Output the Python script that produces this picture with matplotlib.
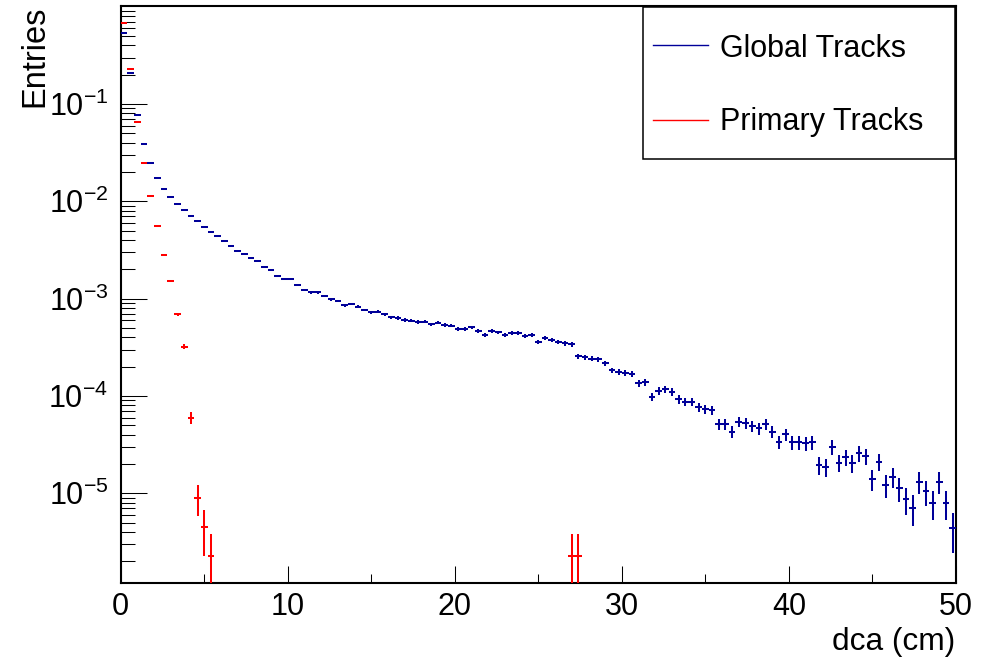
import numpy as np
import matplotlib
matplotlib.use("Agg")
import matplotlib.pyplot as plt
from matplotlib.ticker import FixedLocator, LogLocator, FuncFormatter, NullFormatter, MultipleLocator
from matplotlib.patches import Rectangle
from matplotlib.lines import Line2D

# ---------------- data ----------------
BIN_WIDTH = 0.4          # cm
N_BINS = 125             # 0 .. 50 cm

# Global tracks: normalised bin contents, bins 0..124
global_values = [
    0.533, 0.207, 0.0765, 0.0388, 0.0248, 0.0172, 0.01337, 0.0110, 0.00931, 0.00809,
    0.00701, 0.00628, 0.00544, 0.00487, 0.00437, 0.00388, 0.00347, 0.00311, 0.00287, 0.00263,
    0.00242, 0.00210, 0.00198, 0.00172, 0.00158, 0.00158, 0.00137, 0.00123, 0.00116, 0.00116,
    0.00107, 0.000984, 0.000951, 0.000853, 0.000881, 0.000826, 0.000764, 0.000723, 0.000735, 0.00069,
    0.000643, 0.000632, 0.000603, 0.000593, 0.000575, 0.00058, 0.000545, 0.000565, 0.000535, 0.000527,
    0.000487, 0.000487, 0.000506, 0.000465, 0.000423, 0.000465, 0.00045, 0.00042, 0.000447, 0.000443,
    0.000413, 0.00042, 0.000356, 0.000393, 0.000378, 0.000361, 0.000347, 0.000339, 0.000257, 0.000249,
    0.000241, 0.000238, 0.000216, 0.000183, 0.000178, 0.000173, 0.000167, 0.000135, 0.000139, 9.82e-5,
    0.000113, 0.000117, 0.00011, 9.23e-5, 8.7e-5, 8.7e-5, 7.74e-5, 7.27e-5, 7.16e-5, 5.1e-5,
    5.1e-5, 4.29e-5, 5.43e-5, 5.3e-5, 4.91e-5, 4.63e-5, 5.14e-5, 4.29e-5, 3.38e-5, 4.03e-5,
    3.33e-5, 3.33e-5, 3.26e-5, 3.33e-5, 1.95e-5, 1.87e-5, 3.0e-5, 2.07e-5, 2.34e-5, 2.03e-5,
    2.57e-5, 2.41e-5, 1.40e-5, 2.11e-5, 1.23e-5, 1.48e-5, 1.12e-5, 8.7e-6, 7.1e-6, 1.31e-5,
    1.05e-5, 7.87e-6, 1.31e-5, 7.87e-6, 4.36e-6,
]

# Primary tracks: only non-empty bins
primary_bins = [0, 1, 2, 3, 4, 5, 6, 7, 8, 9, 10, 11, 12, 13, 67, 68]
primary_values = [
    0.686, 0.229, 0.0649, 0.0248, 0.01125, 0.00561, 0.00279, 0.00151, 0.00069, 0.000321,
    6.0e-5, 9.0e-6, 4.5e-6, 2.26e-6, 2.26e-6, 2.26e-6,
]

# number of entries used for the normalisation (Poisson errors)
N_GLOBAL = 1.15e6
N_PRIMARY = 8.85e5

x_ticks_major = [0, 10, 20, 30, 40, 50]
y_ticks_major = [1e-5, 1e-4, 1e-3, 1e-2, 1e-1]
legend_labels = ["Global Tracks", "Primary Tracks"]
x_title = "dca (cm)"
y_title = "Entries"

BLUE = "#000099"
RED = "#ff0000"

# ---------------- style ----------------
plt.rcParams["font.family"] = ["Liberation Sans", "DejaVu Sans"]
plt.rcParams["mathtext.fontset"] = "custom"
plt.rcParams["mathtext.rm"] = "Liberation Sans"
plt.rcParams["mathtext.it"] = "Liberation Sans:italic"
plt.rcParams["mathtext.bf"] = "Liberation Sans:bold"

W, H = 992, 657
fig = plt.figure(figsize=(W / 100, H / 100), dpi=100)
L, R, T, B = 120.7, 956.0, 5.7, 582.7
ax = fig.add_axes([L / W, 1 - B / H, (R - L) / W, (B - T) / H])

centers = (np.arange(N_BINS) + 0.5) * BIN_WIDTH
gv = np.array(global_values)
gerr = np.sqrt(gv / N_GLOBAL)
ax.errorbar(centers, gv, xerr=BIN_WIDTH / 2, yerr=gerr, fmt="none",
            ecolor=BLUE, elinewidth=1.45, capsize=0, zorder=3)

pc = (np.array(primary_bins) + 0.5) * BIN_WIDTH
pv = np.array(primary_values)
perr = np.sqrt(pv / N_PRIMARY)
ax.errorbar(pc, pv, xerr=BIN_WIDTH / 2, yerr=perr, fmt="none",
            ecolor=RED, elinewidth=1.45, capsize=0, zorder=4)

ax.set_yscale("log")
ax.set_xlim(0, 50)
ax.set_ylim(1.205e-6, 1.024)

ax.xaxis.set_major_locator(FixedLocator(x_ticks_major))
ax.xaxis.set_minor_locator(MultipleLocator(5))
ax.yaxis.set_major_locator(FixedLocator(y_ticks_major))
ax.yaxis.set_minor_locator(LogLocator(base=10, subs=np.arange(2, 10), numticks=30))
ax.yaxis.set_major_formatter(FuncFormatter(lambda v, p: r"$10^{%d}$" % int(round(np.log10(v)))))
ax.yaxis.set_minor_formatter(NullFormatter())

ax.tick_params(axis="x", which="major", direction="in", length=12.2, width=0.75,
               labelsize=22, pad=7, top=False)
ax.tick_params(axis="x", which="minor", direction="in", length=6.5, width=0.75, top=False)
ax.tick_params(axis="y", which="major", direction="in", length=18.7, width=0.75,
               labelsize=22, pad=9, right=False)
ax.tick_params(axis="y", which="minor", direction="in", length=10, width=0.75, right=False)
for s in ax.spines.values():
    s.set_linewidth(1.5)

# axis titles
ax.set_xlabel(x_title, loc="right", fontsize=22.8)
ax.xaxis.label.set_va("baseline")
ax.xaxis.set_label_coords((955 - L) / (R - L), (B - 650) / (B - T))
ax.set_ylabel(y_title, loc="top", fontsize=23.5)
ax.yaxis.set_label_coords((50 - L) / (R - L), 1.0)

# legend box (ROOT TLegend style)
def axx(px):
    return (px - L) / (R - L)

def axy(py):
    return (B - py) / (B - T)

box = Rectangle((axx(643), axy(159)), axx(955) - axx(643), axy(7) - axy(159),
                transform=ax.transAxes, facecolor="white", edgecolor="black",
                linewidth=1.1, zorder=10, clip_on=False)
ax.add_patch(box)
for lab, col, ly, ty in [(legend_labels[0], BLUE, 45, 57), (legend_labels[1], RED, 120, 130)]:
    ax.add_line(Line2D([axx(653), axx(708)], [axy(ly), axy(ly)], transform=ax.transAxes,
                       color=col, linewidth=1.0, zorder=11, clip_on=False))
    ax.text(axx(720), axy(ty), lab, transform=ax.transAxes, fontsize=22,
            ha="left", va="baseline", zorder=11)

fig.savefig("out.png", dpi=100)
